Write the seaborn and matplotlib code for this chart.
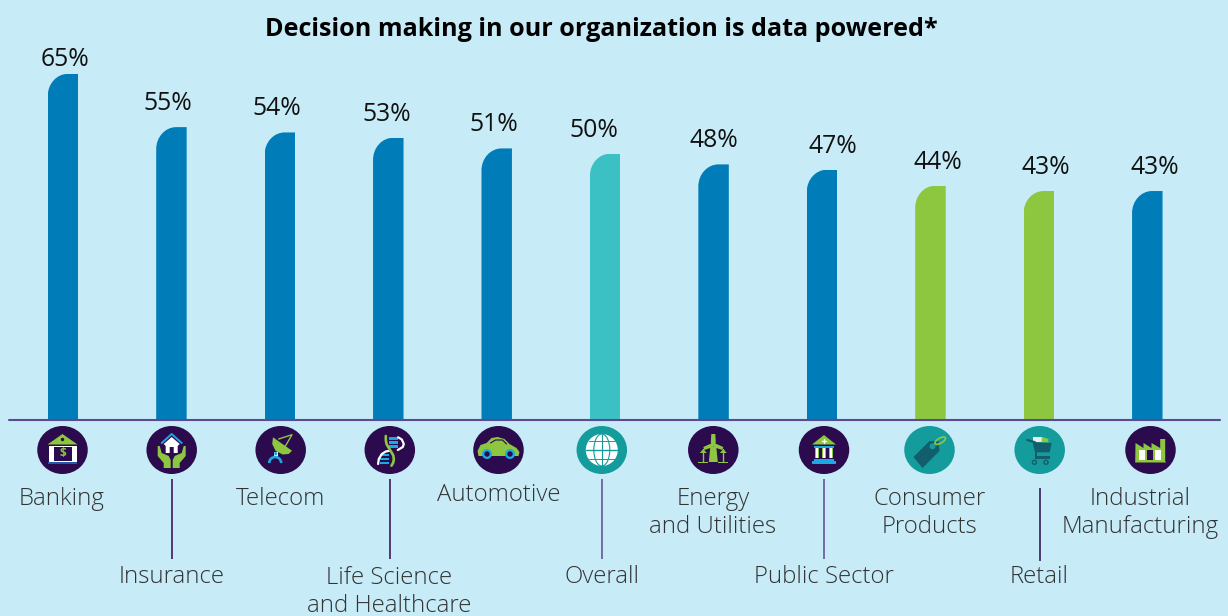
import numpy as np
import pandas as pd
import seaborn as sns
import matplotlib.pyplot as plt
from matplotlib.path import Path
from matplotlib.patches import Ellipse, Polygon, Rectangle, Circle, Arc
from matplotlib.transforms import Affine2D

sectors = ['Banking', 'Insurance', 'Telecom', 'Life Science\nand Healthcare', 'Automotive', 'Overall',
           'Energy\nand Utilities', 'Public Sector', 'Consumer\nProducts', 'Retail', 'Industrial\nManufacturing']
values = [65, 55, 54, 53, 51, 50, 48, 47, 44, 43, 43]
title = 'Decision making in our organization is data powered*'

BG = '#C7EBF7'
BLUE = '#007DB8'
TEAL = '#3BC1C4'
GREEN = '#8DC63F'
DARK = '#2C0A4E'
ICON_TEAL = '#149C9C'
TAG = '#125E6C'
SKY = '#1CA9E1'
LINE = '#5B4A8F'
bar_colors = [BLUE, BLUE, BLUE, BLUE, BLUE, TEAL, BLUE, BLUE, GREEN, GREEN, BLUE]

# layout in pixels of the 1228x616 picture
value_dx = [2, -4, -3, -2, -3, -11, 0, 11, 7, 7, 8]
icon_x = [62.5, 171.7, 280.7, 389.8, 498.5, 601.8, 713.3, 824, 929.5, 1039.7, 1150.5]
label_x = [62, 171.5, 280.5, 389.5, 498.5, 601.5, 713, 824, 929.5, 1039.5, 1140]
label_y = [499, 577, 499, 592, 495, 577, 513, 577, 513, 577, 513]
stems = [(172, 479, 559, DARK), (390, 479, 559, DARK), (602, 479, 559, LINE), (824, 479, 559, LINE), (1040, 488, 561, DARK)]

df = pd.DataFrame({'sector': sectors, 'value': values})

sns.set_style('white')
plt.rcParams['font.family'] = ['Open Sans', 'DejaVu Sans']

fig = plt.figure(figsize=(12.28, 6.16), dpi=100, facecolor=BG)
ax = fig.add_axes([0, 0, 1, 1], facecolor=BG)
sns.barplot(data=df, x='sector', y='value', hue='sector', palette=bar_colors, legend=False,
            width=0.281, saturation=1, linewidth=0, ax=ax)
ax.set_xlim(-63 / 108.43, (1228 - 63) / 108.43)
ax.set_ylim(-196 / 5.325, 420 / 5.325)
ax.axis('off')

# round the top left corner of every bar
rx, ry = 20 / 108.43, 22 / 5.325
for bar in ax.patches:
    x0, w, h = bar.get_x(), bar.get_width(), bar.get_height()
    shape = Path([(x0, 0), (x0, h - ry), (x0, h - ry * 0.45), (x0 + rx * 0.45, h), (x0 + rx, h), (x0 + w, h), (x0 + w, 0), (x0, 0)],
                 [Path.MOVETO, Path.LINETO, Path.CURVE4, Path.CURVE4, Path.CURVE4, Path.LINETO, Path.LINETO, Path.CLOSEPOLY])
    bar.set_clip_path(shape, ax.transData)

ax.axhline(0, xmin=9 / 1228, xmax=1220 / 1228, color=LINE, lw=1.5, zorder=5)

px = Affine2D().scale(1, -1).translate(0, 616)

for i, v in enumerate(values):
    gap = 14 if i == 0 else 23.5
    ax.annotate(f'{v}%', xy=(i, v), xytext=(value_dx[i] * 0.72, gap * 0.72), textcoords='offset points',
                ha='center', va='center', fontsize=17.8, color='#111111')

ax.text(601, 30, title, transform=px, ha='center', va='center', fontsize=18.1, fontweight='bold', color='black')

for name, x, y in zip(sectors, label_x, label_y):
    ax.text(x, y, name, transform=px, ha='center', va='center', fontsize=17.3, color='#333333',
            fontweight=300, linespacing=1.18, family=['Open Sans', 'DejaVu Sans'])

for x, y0, y1, c in stems:
    ax.plot([x, x], [y0, y1], transform=px, color=c, lw=1.1, solid_capstyle='butt')


def poly(t, pts, c):
    ax.add_patch(Polygon(pts, closed=True, fc=c, ec='none', transform=t, clip_on=False))


def rect(t, x0, y0, x1, y1, c):
    ax.add_patch(Rectangle((x0, y0), x1 - x0, y1 - y0, fc=c, ec='none', transform=t, clip_on=False))


def line(t, xs, ys, c, lw=1.0):
    ax.plot(xs, ys, transform=t, color=c, lw=lw, solid_capstyle='round', clip_on=False, zorder=4)


def dot(t, x, y, r, c):
    ax.add_patch(Circle((x, y), r, fc=c, ec='none', transform=t, clip_on=False))


def bank(t):
    poly(t, [(0, -16), (15, -5.5), (-15, -5.5)], GREEN)
    dot(t, 0, -10.5, 1.7, DARK)
    rect(t, -14, -4.5, 14, 11.5, 'white')
    rect(t, -9, -3, 9, 11, DARK)
    rect(t, -14.5, 11.5, 14.5, 13.5, '#1E5AA8')
    ax.text(0, 3.5, '$', transform=t, ha='center', va='center', fontsize=8.5, color=GREEN, fontweight='bold')


def insurance(t):
    line(t, [-10, 0, 10], [-7, -16, -7], SKY, 1.4)
    poly(t, [(0, -13), (8, -6), (6, -4), (6, 3), (2, 3), (2, -3), (-2, -3), (-2, 3), (-6, 3), (-6, -4), (-8, -6)], 'white')
    poly(t, [(-14, -4), (-12, -4), (-10, 3), (-3, 6), (-1, 10), (-1, 18), (-8, 18), (-8, 13), (-14, 6)], GREEN)
    poly(t, [(14, -4), (12, -4), (10, 3), (3, 6), (1, 10), (1, 18), (8, 18), (8, 13), (14, 6)], GREEN)


def telecom(t):
    poly(t, [(-7.7, -12.7), (-8.5, -6), (-5, 1), (2, 4.5), (8, 4), (11.3, 0.7)], GREEN)
    line(t, [-2, 11.3, 4], [-11, -15.3, -2.7], GREEN, 1.0)
    rect(t, -7, 1.5, -3, 7, 'white')
    dot(t, -5, 3.5, 1.7, SKY)
    ax.add_patch(Arc((-5.5, 13), 12, 12, theta1=180, theta2=360, ec=SKY, lw=1.9, transform=t, clip_on=False))


def dna(t):
    for y0, x0 in [(-13, -1), (-9, -1), (-5, -1), (3.5, -10), (7.5, -10), (11.5, -10)]:
        rect(t, x0, y0, x0 + 9.5, y0 + 2.8, SKY)
    line(t, [8.3, 12, 14, 13, 8], [-12.7, -10.5, -6, -3, 0], 'white', 1.6)
    line(t, [0, -4, -8, -11, -11.7], [0.7, 1.5, 4, 9, 14], 'white', 1.6)
    line(t, [-4, -4, -3.3, -1, 1.7, 3.5, 4, 3.5, 1.7], [-14, -10, -6, -2, 2.3, 5.5, 9, 12.5, 15.7], GREEN, 1.9)


def car(t):
    poly(t, [(-21, 1), (-18, -5), (-12, -7), (-7, -12), (-1, -13), (6, -11), (11, -6), (18, -2), (21, 2), (20, 6), (-20, 6)], GREEN)
    line(t, [-8, -3, 4, 8], [-7, -10, -10, -6], DARK, 0.8)
    for x in [-11.5, 11.5]:
        dot(t, x, 4, 5, SKY)
        dot(t, x, 4, 2.7, DARK)


def globe(t):
    dot(t, 0, 0, 16, 'white')
    ax.add_patch(Ellipse((0, 0), 16, 32, fc='none', ec=ICON_TEAL, lw=0.8, transform=t, clip_on=False))
    line(t, [0, 0], [-16, 16], ICON_TEAL, 0.8)
    line(t, [-16, 16], [0, 0], ICON_TEAL, 1.0)
    line(t, [-13, 13], [-9, -9], ICON_TEAL, 0.7)
    line(t, [-13, 13], [9, 9], ICON_TEAL, 0.7)


def energy(t):
    poly(t, [(-2, -16), (2, -16), (2.5, -8), (1.5, -4), (-1.5, -4), (-2.5, -8)], GREEN)
    poly(t, [(-1, -7), (-10, -3), (-9, 0), (0, -3)], GREEN)
    poly(t, [(1, -7), (10, -3), (9, 0), (0, -3)], GREEN)
    poly(t, [(-3, -3), (3, -3), (4.5, 12), (-4.5, 12)], GREEN)
    for x in [-10, 10]:
        rect(t, x - 5, 11.5, x + 5, 13, GREEN)
        line(t, [x, x], [-1, 12], GREEN, 1.0)
        poly(t, [(x - 3.5, 3), (x, -1), (x + 3.5, 3)], GREEN)


def public(t):
    poly(t, [(0, -15), (12, -5.5), (-12, -5.5)], GREEN)
    line(t, [-1.7, 1.7], [-9, -9], 'white', 1.0)
    line(t, [0, 0], [-10.7, -7.3], 'white', 1.0)
    rect(t, -10, -4, 10, -2.5, SKY)
    for x in [-7, 0, 7]:
        rect(t, x - 1.6, -2, x + 1.6, 8, GREEN)
        rect(t, x - 0.7, -2, x + 0.7, 8, 'white')
    rect(t, -10, 8.5, 10, 10.5, SKY)
    rect(t, -12, 11, 12, 13.5, SKY)


def tag(t):
    poly(t, [(0, -9), (9, -9), (10, 1), (-7, 18), (-16, 7)], TAG)
    dot(t, 3, -3.7, 3, ICON_TEAL)
    ax.add_patch(Ellipse((10.7, -9.3), 12, 5, angle=-30, fc='none', ec=GREEN, lw=1.2, transform=t, clip_on=False))


def cart(t):
    poly(t, [(-7, -12.7), (2, -12.7), (2, -7.7), (-7, -7.7)], '#E8EDE8')
    poly(t, [(2, -13.3), (8.7, -11), (8.7, -7.7), (2, -7.7)], GREEN)
    line(t, [-12.3, -4.7], [-10, -7.7], TAG, 1.6)
    poly(t, [(-7, -7.7), (12, -7), (10, 2.3), (-4.7, 2.3)], TAG)
    poly(t, [(-4.7, 2), (-3, 2), (-3, 6), (10, 6), (10, 8.5), (-5, 8.5)], TAG)
    for x in [-5.3, 6.3]:
        ax.add_patch(Circle((x, 12.3), 2, fc='none', ec=TAG, lw=1, transform=t, clip_on=False))


def factory(t):
    poly(t, [(-15, -7), (-7, -2), (-7, -7), (1, -2), (1, -7), (9.7, -2), (9.7, -11), (14.7, -11), (14.7, 11), (15.7, 12.5), (-15.3, 12.5)], GREEN)
    for x0, c in [(-11.3, 'white'), (-3.7, DARK), (4.7, 'white')]:
        rect(t, x0, 0, x0 + 6, 10, c)


icons = [bank, insurance, telecom, dna, car, globe, energy, public, tag, cart, factory]
circle_colors = [DARK, DARK, DARK, DARK, DARK, ICON_TEAL, DARK, DARK, ICON_TEAL, ICON_TEAL, DARK]

for x, draw, c in zip(icon_x, icons, circle_colors):
    t = Affine2D().translate(x, 450) + px
    ax.add_patch(Ellipse((0, 0), 50.5, 48, fc=c, ec='none', transform=t, clip_on=False))
    draw(t)

fig.savefig('out.png', dpi=100, facecolor=BG)
